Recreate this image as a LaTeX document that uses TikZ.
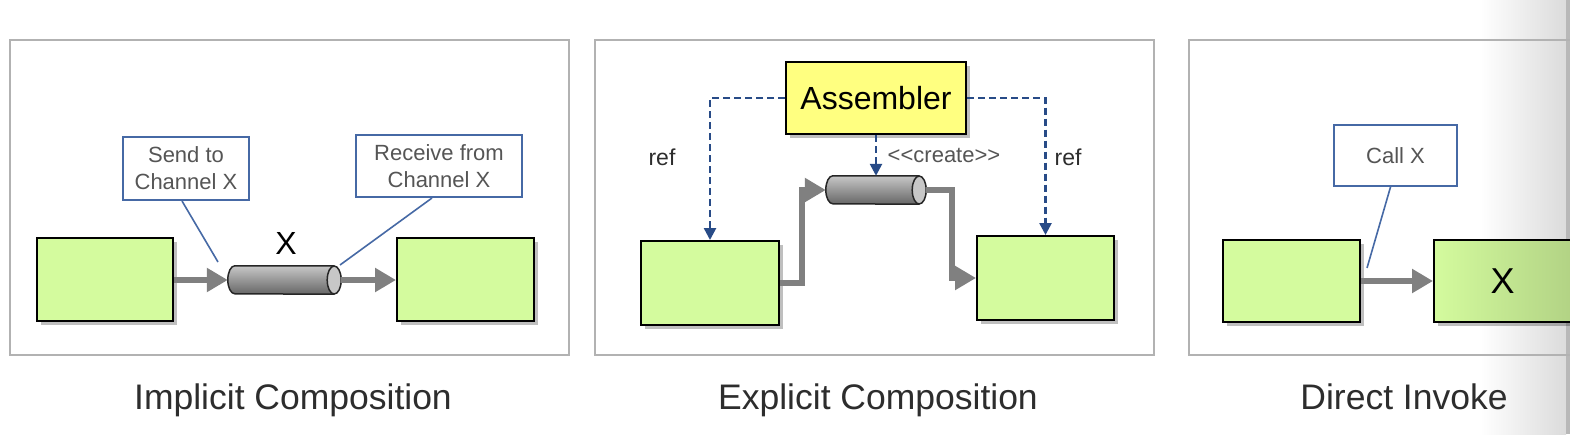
\documentclass[tikz,border=0pt]{standalone}
\usepackage{fontspec}
\setmainfont{Liberation Sans}
\usetikzlibrary{arrows.meta,shadows}
\definecolor{boxgreen}{RGB}{212,251,158}
\definecolor{asmyellow}{RGB}{255,255,128}
\definecolor{callblue}{RGB}{70,105,165}
\definecolor{refblue}{RGB}{40,75,135}
\definecolor{flowgray}{RGB}{128,128,128}
\definecolor{paneledge}{RGB}{178,178,178}
\definecolor{txtgray}{RGB}{85,85,85}
\definecolor{captxt}{RGB}{45,45,45}
\newcommand\fs[2]{\fontsize{#1}{#2}\selectfont}
\newcommand\drawcyl[1]{%
  \path[top color=black!22, bottom color=black!60]
    ([xshift=-7pt]#1.north east) -- ([xshift=7pt]#1.north west)
    arc[start angle=90,end angle=270,x radius=7pt,y radius=14pt]
    -- ([xshift=-7pt]#1.south east)
    arc[start angle=-90,end angle=90,x radius=7pt,y radius=14pt] -- cycle;
  \draw[draw=black!85, line width=1.5pt]
    ([xshift=-7pt]#1.north east) -- ([xshift=7pt]#1.north west)
    arc[start angle=90,end angle=270,x radius=7pt,y radius=14pt]
    -- ([xshift=-7pt]#1.south east);
  \filldraw[fill=black!22, draw=black!85, line width=1.5pt]
    ([xshift=-7pt]#1.east) ellipse [x radius=7pt, y radius=14pt];}
\tikzset{
  panel/.style={draw=paneledge, line width=1.2pt},
  greenbox/.style={draw=black, line width=2pt, fill=boxgreen, inner sep=0pt,
    drop shadow={shadow xshift=4pt, shadow yshift=-4pt, fill=black, opacity=0.25}},
  asmbox/.style={draw=black, line width=2pt, fill=asmyellow, inner sep=0pt,
    drop shadow={shadow xshift=4pt, shadow yshift=-4pt, fill=black, opacity=0.25},
    font=\fs{32}{38}},
  callout/.style={draw=callblue, line width=2pt, fill=white, inner sep=0pt,
    align=center, text=txtgray, font=\fs{22}{27}},
  callline/.style={draw=callblue, line width=1.6pt},
  cylnode/.style={inner sep=0pt, minimum height=28pt},
  flow/.style={draw=flowgray, line width=5.5pt, -{Triangle[length=21pt,width=23pt]}},
  refline/.style={draw=refblue, line width=2.5pt, dash pattern=on 7pt off 4pt,
    -{Triangle[length=12pt,width=12pt]}},
  lbl/.style={text=captxt, font=\fs{23}{27}},
  caption/.style={text=captxt, font=\fs{35.5}{42}, anchor=base},
}
\begin{document}
\begin{tikzpicture}[x=1pt,y=-1pt]
\useasboundingbox (0,0) rectangle (1570,434);
\fill[white] (0,0) rectangle (1570,434);
% right edge shade (page edge)
\shade[left color=white, right color=black!14] (1480,0) rectangle (1566,434);
\fill[black!28] (1566,0) rectangle (1570,434);
% panels
\draw[panel] (10,40) rectangle (569,355);
\draw[panel] (595,40) rectangle (1154,355);
\draw[panel] (1189,40) rectangle (1600,355);

% ---------- Panel 1 ----------
\node[greenbox, minimum width=136pt, minimum height=83pt] (L1) at (105,279.5) {};
\node[greenbox, minimum width=137pt, minimum height=83pt] (R1) at (465.5,279.5) {};
\node[cylnode, minimum width=113pt] (C1) at (284.5,280) {};
\drawcyl{C1}
\draw[flow] (L1.east |- C1.west) -- (C1.west);
\draw[flow] (C1.east) -- (R1.west |- C1.east);
\node[text=black, font=\fs{32}{38}] (X1) at (286,243) {X};
\node[callout, minimum width=126pt, minimum height=63pt] (S1) at (186,168.5) {Send to\\Channel X};
\node[callout, minimum width=166pt, minimum height=62pt] (RC1) at (439,166) {Receive from\\Channel X};
\coordinate (s1end) at (218,262);
\coordinate (r1end) at (340,265);
\draw[callline] ([xshift=-4pt]S1.south) -- (s1end);
\draw[callline] ([xshift=-7pt]RC1.south) -- (r1end);

% ---------- Panel 2 ----------
\node[asmbox, minimum width=180pt, minimum height=72pt] (A) at (876,98) {Assembler};
\node[greenbox, minimum width=138pt, minimum height=84pt] (L2) at (710,283) {};
\node[greenbox, minimum width=137pt, minimum height=84pt] (R2) at (1045.5,278) {};
\node[cylnode, minimum width=100pt] (C2) at (876,190) {};
\drawcyl{C2}
\draw[refline] (A.west) -| (L2.north);
\draw[refline] (A.east) -| (R2.north);
\draw[refline] (A.south) -- (C2.north);
\node[lbl] (ref1) at (662,157) {ref};
\node[lbl] (ref2) at (1068,157) {ref};
\node[lbl, text=txtgray, font=\fs{22}{26}] (cr) at (944,155) {<{}<create>{}>};
\draw[flow] (L2.east) -- ++(22,0) |- (C2.west);
\draw[flow] (C2.east) -- ++(26,0) |- (R2.west);

% ---------- Panel 3 ----------
\node[callout, minimum width=123pt, minimum height=61pt] (K) at (1395.5,155.5) {Call X};
\node[greenbox, minimum width=137pt, minimum height=82pt] (L3) at (1291.5,281) {};
\node[greenbox, minimum width=137pt, minimum height=82pt, font=\fs{36}{42},
  left color=boxgreen, middle color=boxgreen, right color=boxgreen!84!black] (X3) at (1502.5,281) {X};
\coordinate (k1end) at (1367,268);
\draw[callline] ([xshift=-5pt]K.south) -- (k1end);
\draw[flow] (L3.east) -- (X3.west);

% captions
\node[caption] (cap1) at (293,409) {Implicit Composition};
\node[caption] (cap2) at (878,409) {Explicit Composition};
\node[caption] (cap3) at (1404,409) {Direct Invoke};
\end{tikzpicture}
\end{document}
